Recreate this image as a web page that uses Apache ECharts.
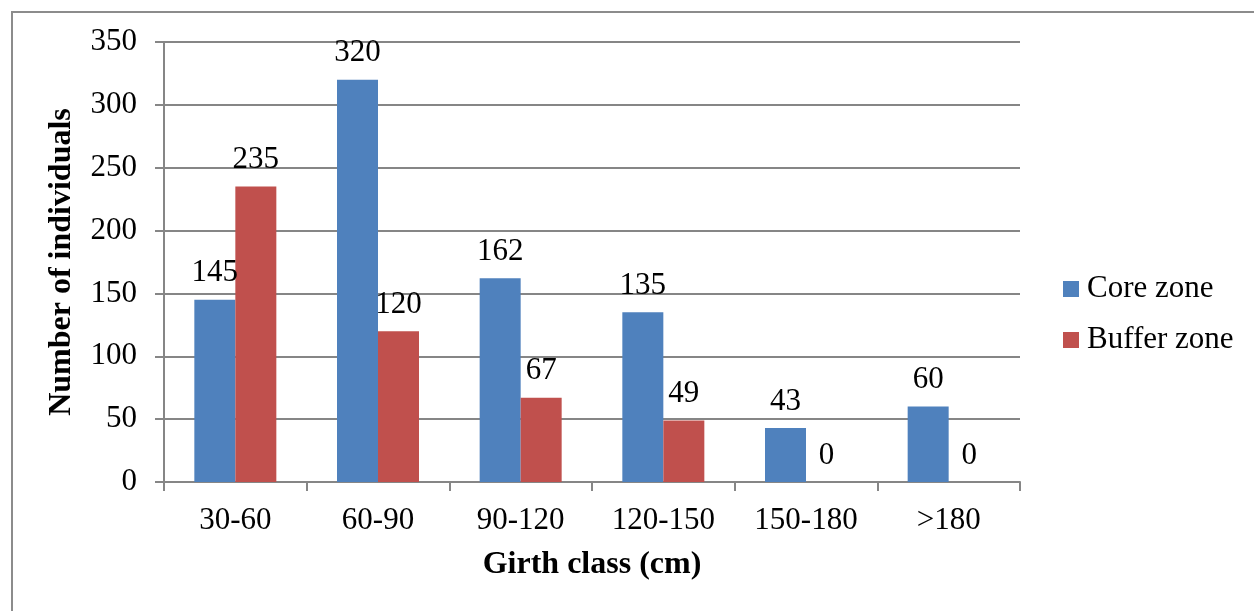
<!DOCTYPE html>
<html>
<head>
<meta charset="utf-8">
<script src="https://cdn.jsdelivr.net/npm/echarts@6/dist/echarts.min.js"></script>
<style>
  html, body { margin: 0; padding: 0; background: #fff; }
  #frame { position: absolute; left: 11px; top: 11px; width: 1243px; height: 600px;
           border-left: 2px solid #8c8c8c; border-top: 2px solid #8c8c8c; box-sizing: border-box; }
  #chart { position: absolute; left: 0; top: 0; width: 1254px; height: 611px; }
</style>
</head>
<body>
<div id="frame"></div>
<div id="chart"></div>
<script>
// Girth class distribution of individuals in core and buffer zones
const girthClasses = ['30-60', '60-90', '90-120', '120-150', '150-180', '>180'];
const coreZone = [145, 320, 162, 135, 43, 60];
const bufferZone = [235, 120, 67, 49, 0, 0];

const serif = '"Liberation Serif", "Times New Roman", serif';
const gridColor = '#868686';
const textSize = 31;
const titleSize = 32;

const chart = echarts.init(document.getElementById('chart'), null, { renderer: 'canvas' });

const labelStyle = {
  show: true,
  position: 'top',
  distance: 11,
  color: '#000',
  fontFamily: serif,
  fontSize: textSize
};

chart.setOption({
  backgroundColor: 'transparent',
  animation: false,
  grid: { left: 164, right: 234, top: 42, bottom: 129 },
  legend: {
    orient: 'vertical',
    left: 1058,
    top: 268,
    itemWidth: 16,
    itemHeight: 16,
    itemGap: 19,
    icon: 'rect',
    textStyle: { fontFamily: serif, fontSize: textSize, color: '#000', lineHeight: 32, padding: [0, 0, 0, 3] },
    data: ['Core zone', 'Buffer zone']
  },
  xAxis: {
    type: 'category',
    data: girthClasses,
    name: 'Girth class (cm)',
    nameLocation: 'middle',
    nameGap: 67,
    nameTextStyle: { fontFamily: serif, fontSize: titleSize, fontWeight: 'bold', color: '#000' },
    axisLine: { lineStyle: { color: gridColor, width: 2 } },
    axisTick: { show: true, length: 9, lineStyle: { color: gridColor, width: 2 } },
    axisLabel: { fontFamily: serif, fontSize: textSize, color: '#000', margin: 23 }
  },
  yAxis: {
    type: 'value',
    min: 0,
    max: 350,
    interval: 50,
    name: 'Number of individuals',
    nameLocation: 'middle',
    nameGap: 86,
    nameTextStyle: { fontFamily: serif, fontSize: titleSize, fontWeight: 'bold', color: '#000' },
    axisLine: { show: true, lineStyle: { color: gridColor, width: 2 } },
    axisTick: { show: true, length: 9, lineStyle: { color: gridColor, width: 2 } },
    axisLabel: { fontFamily: serif, fontSize: textSize, color: '#000', margin: 27 },
    splitLine: { lineStyle: { color: gridColor, width: 2 } }
  },
  series: [
    {
      name: 'Core zone',
      type: 'bar',
      data: coreZone,
      barWidth: 41,
      barGap: '0%',
      itemStyle: { color: '#4F81BD' },
      label: labelStyle
    },
    {
      name: 'Buffer zone',
      type: 'bar',
      data: bufferZone,
      barWidth: 41,
      barGap: '0%',
      itemStyle: { color: '#C0504D' },
      label: labelStyle
    }
  ]
});
</script>
</body>
</html>
